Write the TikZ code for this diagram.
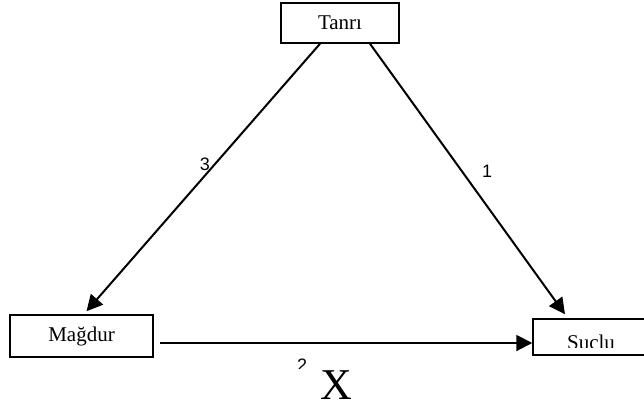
\documentclass[tikz,border=0pt]{standalone}
\usepackage{fontspec}
\setmainfont{Liberation Serif}
\newfontfamily\numfont{Liberation Sans}
\usetikzlibrary{arrows.meta}

\begin{document}
\begin{tikzpicture}[x=1pt,y=-1pt,>={Triangle[length=16pt,width=16pt]},
  box/.style={draw,line width=1.5pt,inner sep=0pt,font=\fontsize{21}{24}\selectfont},
  num/.style={font=\numfont\fontsize{18}{20}\selectfont,inner sep=0pt},
  link/.style={->,line width=2pt}]
\useasboundingbox (0,0) rectangle (644,408);
\node[box,minimum width=118pt,minimum height=40pt] (tanri) at (340,23) {Tanrı};
\node[box,minimum width=143pt,minimum height=42pt] (magdur) at (81.5,336) {Mağdur};
\node[box,minimum width=114pt,minimum height=36pt] (suclu) at (590,337) {};
% text of the right box is cut at its lower edge
\begin{scope}
\clip (534,321) rectangle (644,347);
\node[anchor=base,inner sep=0pt,font=\fontsize{21}{24}\selectfont] (suclutxt) at (591,349) {Suçlu};
\end{scope}
\draw[link] ([xshift=-20pt]tanri.south) -- ([xshift=5pt,yshift=3pt]magdur.north);
\draw[link] ([xshift=30pt]tanri.south) -- ([xshift=-25pt,yshift=4pt]suclu.north);
\draw[link] ([xshift=6pt,yshift=-7pt]magdur.east) -- ([yshift=-6pt]suclu.west);
\node[num] (three) at (205,164) {3};
\node[num] (one) at (487,171) {1};
\begin{scope}
\clip (285,350) rectangle (320,368);
\node[num,anchor=base] (two) at (302,371) {2};
\end{scope}
\node[anchor=base,inner sep=0pt,font=\fontsize{44}{48}\selectfont] (x) at (336,399) {X};
\end{tikzpicture}
\end{document}
